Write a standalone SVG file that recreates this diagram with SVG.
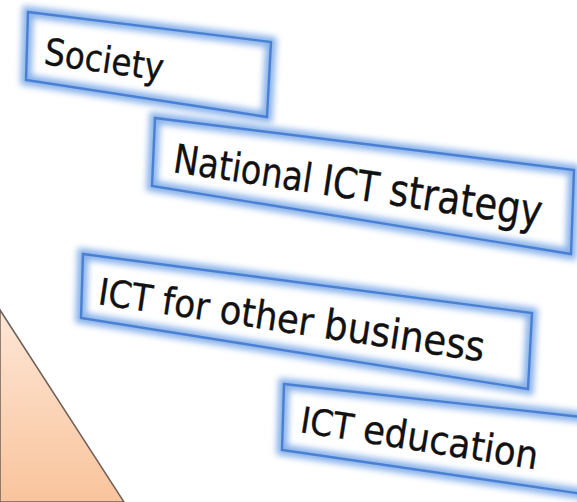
<svg xmlns="http://www.w3.org/2000/svg" width="577" height="502" viewBox="0 0 577 502">
<defs>
<linearGradient id="tri" x1="0" y1="0" x2="0" y2="1">
<stop offset="0" stop-color="#fde6d6"/>
<stop offset="1" stop-color="#f9c49c"/>
</linearGradient>
<filter id="glow" x="-10%" y="-30%" width="120%" height="160%">
<feGaussianBlur stdDeviation="3"/>
</filter>
</defs>
<style>
.bg{fill:#ffffff;stroke:none}
.gl{fill:none;stroke:#89b2ea;stroke-width:11;filter:url(#glow)}
.ln{fill:none;stroke:#4a80d3;stroke-width:2.4;stroke-linejoin:miter}
.t{font-family:"DejaVu Sans",Verdana,sans-serif;fill:#111111;stroke:#111111;stroke-width:0.35}
</style>
<rect width="577" height="502" fill="#ffffff"/>
<polygon points="0,310 124,502 0,502" fill="url(#tri)" stroke="#6e6058" stroke-width="1.5"/>
<g id="society">
<polygon class="bg" points="28,12 271,42 267,117 26,80"/>
<polygon class="gl" points="28,12 271,42 267,117 26,80"/>
<polygon class="ln" points="28,12 271,42 267,117 26,80"/>
<text class="t" transform="translate(43,64) rotate(8)" font-size="37" textLength="120" lengthAdjust="spacingAndGlyphs">Society</text>
</g>
<g id="national">
<polygon class="bg" points="155,118 574,170 571,254 152,186"/>
<polygon class="gl" points="155,118 574,170 571,254 152,186"/>
<polygon class="ln" points="155,118 574,170 571,254 152,186"/>
<text class="t" transform="translate(172,172) rotate(8.5)" textLength="372" lengthAdjust="spacingAndGlyphs"><tspan font-size="40">National </tspan><tspan font-size="42">ICT </tspan><tspan font-size="44">strategy</tspan></text>
</g>
<g id="business">
<polygon class="bg" points="83,254 532,313 528,389 81,318"/>
<polygon class="gl" points="83,254 532,313 528,389 81,318"/>
<polygon class="ln" points="83,254 532,313 528,389 81,318"/>
<text class="t" transform="translate(97,304) rotate(8.5)" textLength="390" lengthAdjust="spacingAndGlyphs"><tspan font-size="37">ICT </tspan><tspan font-size="38">for </tspan><tspan font-size="39">other </tspan><tspan font-size="41">business</tspan></text>
</g>
<g id="education">
<polygon class="bg" points="284,384 590,418 590,495 282,450"/>
<polygon class="gl" points="284,384 590,418 590,495 282,450"/>
<polygon class="ln" points="284,384 590,418 590,495 282,450"/>
<text class="t" transform="translate(299,432) rotate(9)" textLength="240" lengthAdjust="spacingAndGlyphs"><tspan font-size="36">ICT </tspan><tspan font-size="39">education</tspan></text>
</g>
<g id="connectors"></g>
</svg>
